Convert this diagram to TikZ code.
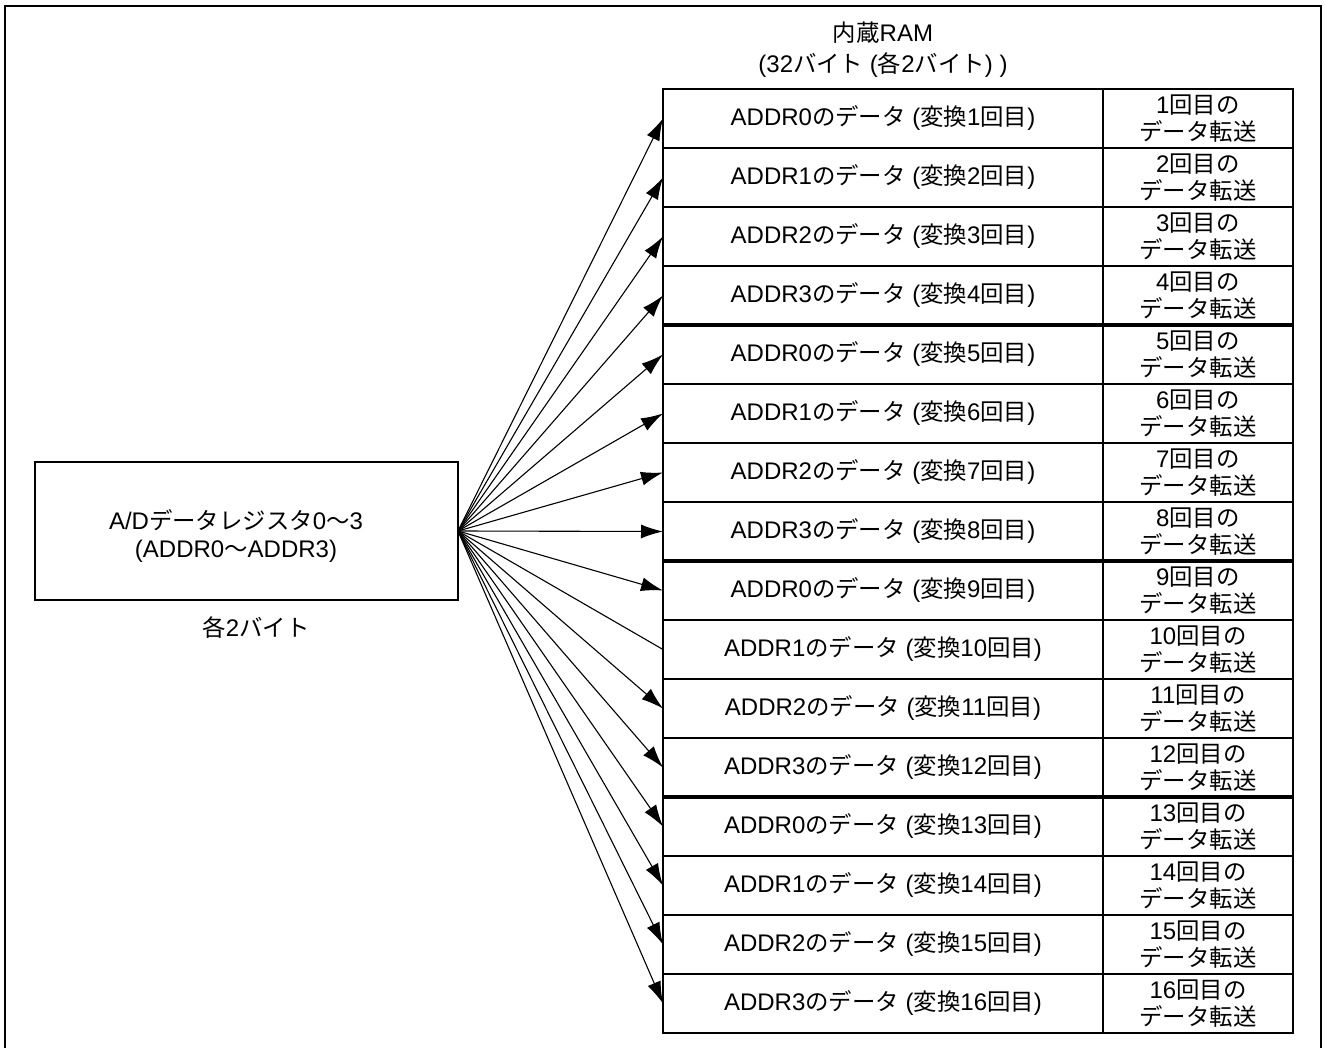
\documentclass[tikz,border=0pt]{standalone}
\usepackage{fontspec}
\setmainfont{Liberation Sans}
\newfontfamily\jp{Noto Sans CJK JP}[Scale=0.975]
\usetikzlibrary{arrows.meta,positioning}

\begin{document}
\begin{tikzpicture}[x=1pt, y=-1pt,
        every node/.style={font=\fontsize{24}{28}\selectfont},
        cell/.style={draw, line width=2pt, minimum width=440pt,
          minimum height=59pt, inner sep=0pt, outer sep=0pt},
        tcell/.style={cell, minimum width=190pt, align=center,
          font=\fontsize{24}{27.5}\selectfont},
        regbox/.style={draw, line width=1.8pt, minimum width=423pt,
          minimum height=138pt, outer sep=0pt},
        txt/.style={inner sep=0pt, align=center}, >={Latex[length=22pt,width=14pt]}]
     \useasboundingbox (0,0) rectangle (1325,1048);
     \draw[line width=2.5pt] (5,1060) -- (5,6) -- (1321,6) -- (1321,1060);
     % register
     \node (reg) at (246.5,531) [regbox] {};
     \node (regtxt) at (236,536) [txt] {A/D{\jp データレジスタ}0{\jp ～}3\\(ADDR0{\jp ～}ADDR3)};
     \node (regsz) at (256,628) [txt] {{\jp 各}2{\jp バイト}};
     % RAM table
     \node (ram) at (883,50) [txt, font=\fontsize{24}{31}\selectfont]
        {{\jp 内蔵}RAM\\(32{\jp バイト} ({\jp 各}2{\jp バイト}) )};
     \foreach \i in {1,...,16} {
        \pgfmathtruncatemacro\n{mod(\i-1,4)}
        \node (d\i) at (883,{89+59*(\i-0.5)}) [cell]
           {ADDR\n{\jp のデータ} ({\jp 変換}\i{\jp 回目})};
        \node (t\i) [tcell, right=0pt of d\i] {\i{\jp 回目の}\\{\jp データ転送}};
        \ifnum\i=10
           \draw[-, line width=1.1pt] (reg.east) -- (d\i.west);
        \else
           \draw[->, line width=1.1pt] (reg.east) -- (d\i.west);
        \fi
     }
     \foreach \i in {4,8,12}
        \draw[line width=4.5pt] (d\i.south west) -- (t\i.south east);
    \end{tikzpicture}
\end{document}
